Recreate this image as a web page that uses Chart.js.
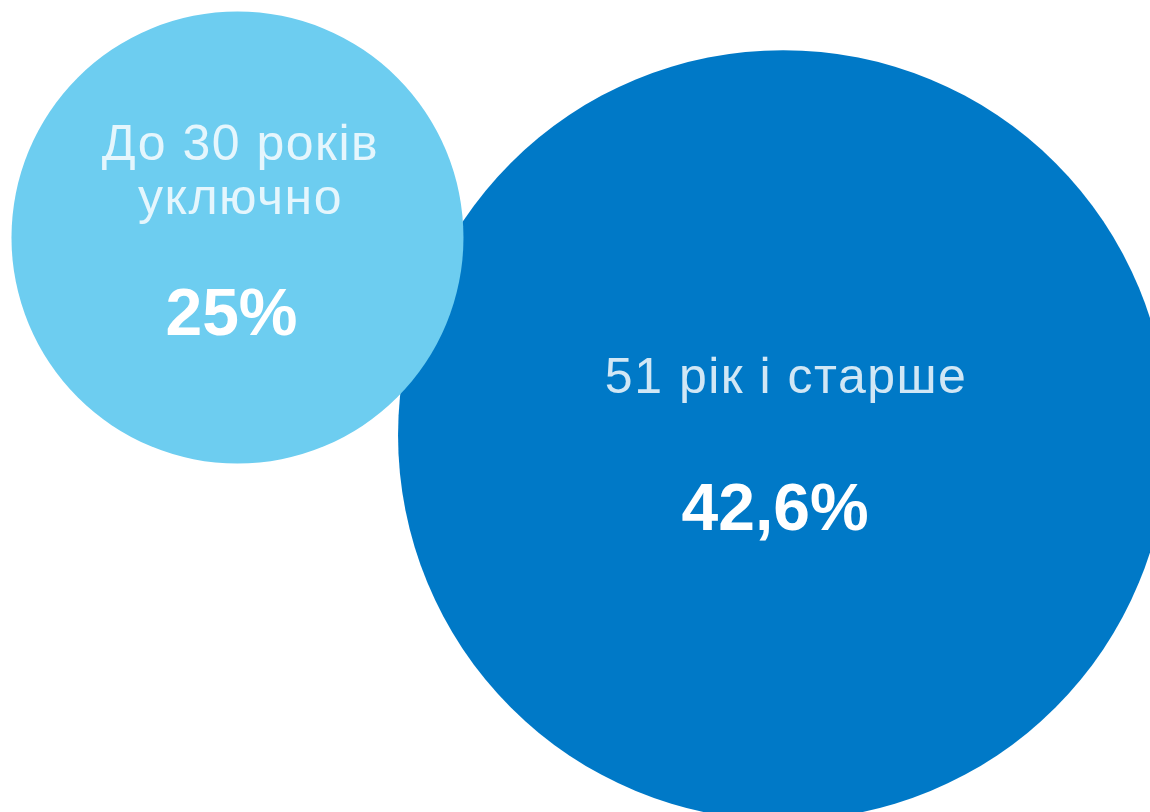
<!DOCTYPE html>
<html lang="uk">
<head>
<meta charset="utf-8">
<title>Вікові групи</title>
<script src="https://cdn.jsdelivr.net/npm/chart.js@4/dist/chart.umd.min.js"></script>
<style>
    html, body { margin: 0; padding: 0; background: #fff; }
    #wrap { width: 1150px; height: 812px; position: relative; overflow: hidden; }
</style>
</head>
<body>
<div id="wrap"><canvas id="bubbles"></canvas></div>
<script>
// data
const groups = ["До 30 років уключно", "51 рік і старше"];
const groupLines = [["До 30 років", "уключно"], ["51 рік і старше"]];
const shares = [25, 42.6];
const shareLabels = ["25%", "42,6%"];

// layout (axis units 0..100, radius px per percent point)
const centers = [{ x: 20.65, y: 70.75 }, { x: 68.1, y: 46.4 }];
const pxPerPoint = 9.04;
const colors = ["#6dcdf0", "#0079c7"];
const textOffsets = [
    { lines: [-78, -24], value: 97, valueDx: -6 },
    { lines: [-42], value: 95, valueDx: -8 }
];

// dark circle goes first so the light one sits on top
let order = [1, 0];

let points = order.map(function(i) {
    return { x: centers[i].x, y: centers[i].y, r: shares[i] * pxPerPoint, idx: i };
});

const bubbleLabels = {
    id: "bubbleLabels",
    afterDatasetsDraw(chart) {
        let ctx = chart.ctx;
        let meta = chart.getDatasetMeta(0);
        ctx.save();
        ctx.textAlign = "center";
        ctx.textBaseline = "alphabetic";
        meta.data.forEach(function(el, k) {
            let i = points[k].idx;
            let off = textOffsets[i];
            ctx.fillStyle = "rgba(255,255,255,0.82)";
            ctx.font = "50px 'Liberation Sans', Arial, sans-serif";
            ctx.letterSpacing = "1.5px";
            groupLines[i].forEach(function(line, j) {
                ctx.fillText(line, el.x + 3, el.y + off.lines[j]);
            });
            ctx.letterSpacing = "0px";
            ctx.fillStyle = "#ffffff";
            ctx.font = "bold 66px 'Liberation Sans', Arial, sans-serif";
            ctx.fillText(shareLabels[i], el.x + off.valueDx, el.y + off.value);
        });
        ctx.restore();
    }
};

new Chart(document.getElementById("bubbles"), {
    type: "bubble",
    data: {
        labels: order.map(i => groups[i]),
        datasets: [{
            data: points,
            backgroundColor: order.map(i => colors[i]),
            borderWidth: 0,
            clip: false
        }]
    },
    options: {
        responsive: true,
        maintainAspectRatio: false,
        animation: false,
        events: [],
        layout: { padding: 0, autoPadding: false },
        scales: {
            x: { type: "linear", min: 0, max: 100, display: false },
            y: { type: "linear", min: 0, max: 100, display: false }
        },
        plugins: {
            legend: { display: false },
            tooltip: { enabled: false }
        }
    },
    plugins: [bubbleLabels]
});
</script>
</body>
</html>
